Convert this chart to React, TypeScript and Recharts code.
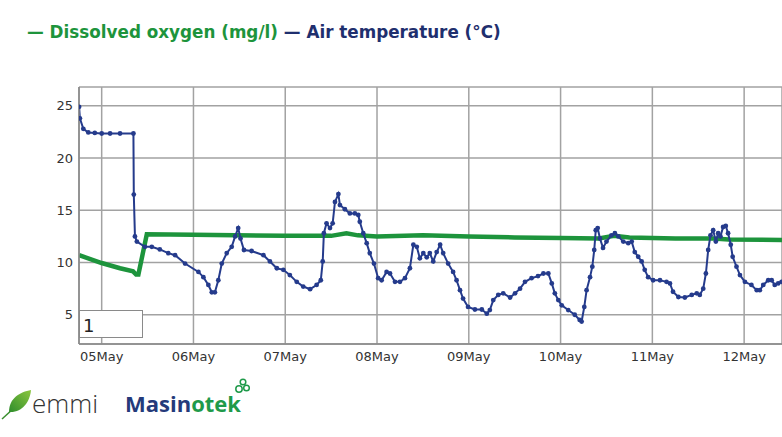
import { LineChart, Line, XAxis, YAxis, CartesianGrid } from 'recharts';

// hours counted from 05May 00:00
const dayLabels = ['05May', '06May', '07May', '08May', '09May', '10May', '11May', '12May'];
const yTicks = [5, 10, 15, 20, 25];

const oxygenHours = [-5.9, 0, 4.8, 8.2, 9.0, 9.6, 11.8, 24, 48, 60, 64, 67, 72, 84, 96, 108, 120, 130, 134, 138, 150, 160, 164, 177.9];
const oxygenValues = [10.7, 9.95, 9.45, 9.15, 8.85, 8.85, 12.7, 12.65, 12.55, 12.55, 12.8, 12.6, 12.5, 12.6, 12.5, 12.4, 12.35, 12.3, 12.55, 12.4, 12.3, 12.3, 12.2, 12.15];

const airHours = [
  -5.9, -5.7, -4.8, -3.5, -1.8, 0, 2.2, 4.8, 8.3, 8.4, 8.7, 9.2, 11.3, 13.1, 15.2, 17.4, 19.2, 21.8, 25.3, 26.6,
  27.9, 28.8, 29.6, 30.5, 31.4, 32.7, 34.0, 34.9, 35.7, 36.3, 37.2, 39.2, 42.3, 44.0, 45.8, 47.5, 49.2, 51.0, 52.7, 54.5,
  56.2, 57.3, 57.8, 58.1, 58.8, 59.7, 60.4, 61.0, 61.9, 62.3, 63.6, 64.9, 66.2, 67.1, 67.5, 68.4, 69.3, 70.1, 71.2, 72.3,
  73.2, 74.5, 75.4, 76.7, 78.0, 79.3, 80.6, 81.5, 82.4, 83.2, 84.1, 85.0, 85.8, 86.7, 87.6, 88.5, 89.3, 90.6, 91.9, 92.8,
  93.7, 94.5, 95.8, 97.6, 99.4, 100.7, 101.5, 102.4, 103.7, 105.0, 106.8, 108.1, 109.4, 110.7, 112.4, 114.1, 115.5, 116.8, 117.7, 118.5,
  119.4, 120.3, 122.0, 123.7, 125.0, 125.5, 126.2, 126.8, 127.7, 128.3, 128.8, 129.2, 129.7, 130.3, 131.1, 132.0, 133.3, 134.2, 135.1, 136.4,
  137.7, 138.6, 139.4, 140.3, 141.2, 142.0, 142.9, 144.2, 146.0, 147.7, 148.6, 149.4, 150.8, 152.5, 154.3, 155.6, 156.4, 157.3, 158.0, 158.6,
  159.2, 159.9, 160.6, 161.2, 161.8, 162.5, 163.2, 163.8, 164.5, 165.0, 166.0, 166.9, 168.2, 169.9, 171.3, 172.1, 173.0, 174.3, 175.2, 176.0,
  176.9, 177.8,
];
const airValues = [
  24.9, 23.8, 22.8, 22.45, 22.4, 22.35, 22.35, 22.35, 22.35, 16.5, 12.5, 12.0, 11.5, 11.5, 11.25, 10.9, 10.7, 9.9, 9.1, 8.6,
  7.85, 7.15, 7.15, 8.3, 9.9, 10.9, 11.5, 12.5, 13.3, 12.3, 11.2, 11.1, 10.7, 10.1, 9.45, 9.3, 8.8, 8.15, 7.7, 7.45,
  7.85, 8.3, 10.1, 12.8, 13.75, 13.3, 13.75, 15.8, 16.55, 15.5, 15.1, 14.7, 14.7, 14.55, 13.9, 12.8, 11.85, 10.9, 9.9, 8.5,
  8.3, 9.1, 8.95, 8.15, 8.15, 8.5, 9.45, 11.7, 11.5, 10.4, 10.9, 10.5, 10.9, 10.1, 11.0, 11.7, 10.9, 9.9, 9.1, 8.3,
  7.35, 6.55, 5.75, 5.5, 5.5, 5.1, 5.45, 6.4, 6.9, 7.05, 6.65, 7.05, 7.5, 8.15, 8.5, 8.7, 8.95, 8.95, 8.0, 7.05,
  6.4, 5.9, 5.45, 5.0, 4.5, 4.35, 5.75, 7.35, 8.6, 9.6, 11.2, 13.1, 13.3, 12.3, 11.4, 12.0, 12.6, 12.8, 12.5, 12.0,
  11.85, 12.0, 11.0, 10.55, 10.1, 9.3, 8.6, 8.3, 8.3, 8.15, 8.0, 7.2, 6.7, 6.65, 6.9, 7.05, 6.9, 7.5, 8.95, 11.2,
  12.6, 13.1, 12.0, 12.8, 12.5, 13.4, 13.5, 12.8, 11.7, 10.55, 9.6, 8.8, 8.15, 7.85, 7.35, 7.35, 7.85, 8.3, 8.3, 7.85,
  8.0, 8.15,
];

const toRows = (hours: number[], values: number[]) => hours.map((h, i) => ({ h, v: values[i] }));

const GREEN = '#1d943c';
const NAVY = '#253b8c';
const tickStyle = { fontSize: 13, fill: '#333', fontFamily: 'DejaVu Sans, Verdana, sans-serif' };

export default function App() {
  const oxygen = toRows(oxygenHours, oxygenValues);
  const air = toRows(airHours, airValues);
  const dayTicks = dayLabels.map((_, i) => i * 24);

  return (
    <div style={{ position: 'fixed', left: 0, top: 0, width: 782, height: 437, background: '#fff', overflow: 'hidden' }}>
      <div style={{ position: 'absolute', left: 0, top: 0 }}>
        <LineChart width={782} height={437} margin={{ top: 87, right: 0, bottom: 63, left: 0 }}>
          <CartesianGrid stroke="#a2a2a2" strokeWidth={1.5} />
          <XAxis
            dataKey="h"
            type="number"
            domain={[-5.93, 177.9]}
            allowDataOverflow
            ticks={dayTicks}
            tickFormatter={(t: number) => dayLabels[Math.round(t / 24)]}
            tick={tickStyle}
            tickLine={false}
            axisLine={{ stroke: '#888', strokeWidth: 1.5 }}
            height={30}
          />
          <YAxis
            type="number"
            domain={[2.2, 26.8]}
            allowDataOverflow
            ticks={yTicks}
            tick={tickStyle}
            tickLine={false}
            tickSize={6}
            tickMargin={0}
            axisLine={{ stroke: '#888', strokeWidth: 1.5 }}
            width={79}
          />
          <Line
            data={oxygen}
            dataKey="v"
            type="linear"
            stroke={GREEN}
            strokeWidth={4.5}
            dot={false}
            isAnimationActive={false}
          />
          <Line
            data={air}
            dataKey="v"
            type="linear"
            stroke={NAVY}
            strokeWidth={2}
            dot={{ r: 2.4, fill: NAVY, stroke: NAVY, strokeWidth: 0 }}
            isAnimationActive={false}
          />
        </LineChart>
      </div>
      <svg width={782} height={437} style={{ position: 'absolute', left: 0, top: 0 }}>
        <text x={27} y={38} fontFamily="DejaVu Sans, Verdana, sans-serif" fontWeight="bold" fontSize={16.8}>
          <tspan fill={GREEN}>— Dissolved oxygen (mg/l)</tspan>
          <tspan fill="#1f2f6e"> — Air temperature (°C)</tspan>
        </text>
        {/* the "1" box in the plot corner */}
        <rect x={79.5} y={310.5} width={63} height={27} fill="#fff" stroke="#8a8a8a" />
        <text x={83} y={332} fontSize={18} fill="#222" fontFamily="DejaVu Sans, sans-serif">1</text>
        {/* emmi logo */}
        <defs>
          <linearGradient id="leaf" x1="0" y1="1" x2="1" y2="0">
            <stop offset="0" stopColor="#2f8d2c" />
            <stop offset="1" stopColor="#8cc63f" />
          </linearGradient>
        </defs>
        <path d="M2 419 L14 408" stroke="#3a8f2e" strokeWidth={1.5} />
        <path d="M9 412 C 9 398, 20 392, 31 390 C 30 402, 22 413, 9 412 Z" fill="url(#leaf)" />
        <text x={32} y={413} fontFamily="Open Sans, sans-serif" fontWeight={300} fontSize={26} fill="#333">emmi</text>
        {/* Masinotek logo */}
        <text x={125} y={412} fontFamily="Open Sans, sans-serif" fontWeight={700} fontSize={22}>
          <tspan fill="#243a7a">Masin</tspan>
          <tspan fill="#1f9a4a">otek</tspan>
        </text>
        <circle cx={239} cy={389} r={3.2} fill="none" stroke="#1f9a4a" strokeWidth={1.5} />
        <circle cx={246.5} cy={388} r={2.8} fill="none" stroke="#1f9a4a" strokeWidth={1.5} />
        <circle cx={243} cy={382} r={2.8} fill="none" stroke="#1f9a4a" strokeWidth={1.5} />
      </svg>
    </div>
  );
}
